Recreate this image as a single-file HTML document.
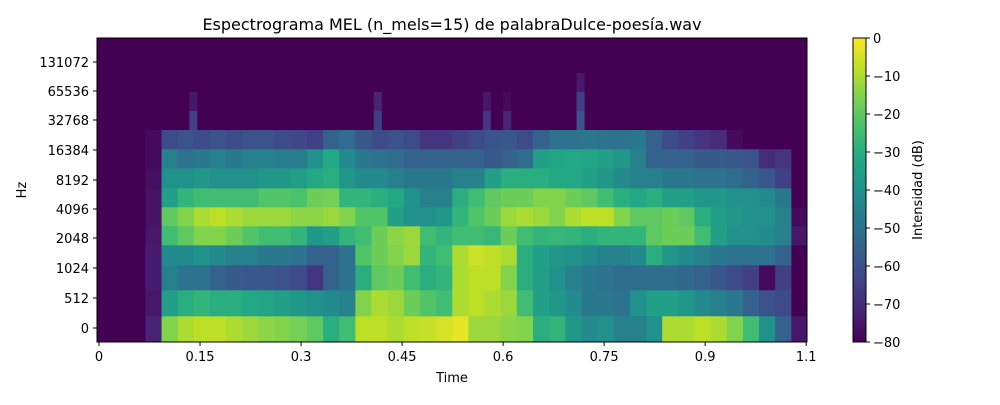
<!DOCTYPE html>
<html><head><meta charset="utf-8"><style>
body{margin:0;background:#fff}
svg text{font-family:"DejaVu Sans","Liberation Sans",sans-serif;fill:#000}
</style></head><body>
<svg id="chart" width="1000" height="400" viewBox="0 0 1000 400" xmlns="http://www.w3.org/2000/svg">
<defs>
<linearGradient id="vir" x1="0" y1="1" x2="0" y2="0">
<stop offset="0" stop-color="#440154"/><stop offset="0.1" stop-color="#482475"/><stop offset="0.2" stop-color="#414487"/><stop offset="0.3" stop-color="#355f8d"/><stop offset="0.4" stop-color="#2a788e"/><stop offset="0.5" stop-color="#21918c"/><stop offset="0.6" stop-color="#22a884"/><stop offset="0.7" stop-color="#44bf70"/><stop offset="0.8" stop-color="#7ad151"/><stop offset="0.9" stop-color="#bddf26"/><stop offset="1" stop-color="#fde725"/>
</linearGradient>
<clipPath id="plotclip"><rect x="97" y="38" width="710" height="304"/></clipPath>
</defs>
<text x="452" y="30" font-size="16" text-anchor="middle">Espectrograma MEL (n_mels=15) de palabraDulce-poesía.wav</text>
<g id="cells" clip-path="url(#plotclip)"></g>
<rect x="97" y="38" width="710" height="304" fill="none" stroke="#000" stroke-width="1"/>
<g id="xticks"></g>
<g id="yticks"></g>
<text x="452" y="382" font-size="13" text-anchor="middle">Time</text>
<text x="26" y="190" font-size="13" text-anchor="middle" transform="rotate(-90 26 190)">Hz</text>
<rect x="853" y="38" width="13" height="304" fill="url(#vir)" stroke="#000" stroke-width="1"/>
<g id="cbticks"></g>
<text x="922" y="190" font-size="13" text-anchor="middle" transform="rotate(-90 922 190)">Intensidad (dB)</text>
</svg>
<script>
const rowEdges = [342,316,290,265,245,226,207,188,168,149,130,111,92,73,54,38];
const tStart = -0.003, tEnd = 1.052, nCols = 44;
const band0 = [-80,-80,-80,-72,-15,-10,-8,-8,-10,-12,-14,-15,-17,-20,-30,-25,-8,-8,-10,-8,-7,-5,-3,-12,-12,-14,-15,-30,-28,-38,-42,-40,-45,-45,-40,-10,-10,-8,-10,-15,-25,-40,-55,-75];
const band1 = [-80,-80,-80,-75,-35,-30,-28,-30,-30,-32,-33,-35,-38,-40,-42,-45,-15,-10,-12,-18,-22,-25,-10,-8,-10,-12,-25,-35,-38,-42,-48,-48,-50,-40,-35,-35,-38,-42,-45,-48,-55,-60,-62,-80];
const band2 = [-80,-80,-80,-74,-45,-50,-50,-55,-57,-58,-58,-60,-62,-68,-55,-50,-30,-20,-18,-25,-30,-28,-10,-8,-8,-15,-30,-35,-40,-45,-48,-50,-52,-52,-52,-52,-53,-55,-58,-62,-65,-78,-65,-80];
const band3 = [-80,-80,-80,-74,-42,-42,-40,-42,-45,-45,-48,-48,-50,-55,-55,-50,-22,-18,-15,-12,-28,-25,-10,-6,-8,-10,-30,-35,-38,-40,-42,-45,-45,-42,-30,-38,-42,-45,-48,-50,-50,-50,-55,-80];
const band4 = [-80,-80,-80,-75,-25,-20,-15,-15,-18,-22,-25,-25,-28,-38,-35,-28,-25,-18,-14,-12,-25,-28,-25,-25,-27,-18,-25,-28,-27,-28,-30,-28,-28,-28,-20,-18,-18,-25,-35,-40,-40,-42,-45,-75];
const band5 = [-80,-80,-80,-76,-20,-15,-10,-8,-10,-12,-12,-12,-14,-14,-12,-15,-22,-22,-35,-40,-40,-38,-28,-22,-18,-12,-10,-12,-15,-10,-8,-8,-15,-20,-20,-18,-20,-30,-35,-38,-40,-40,-45,-78];
const band6 = [-80,-80,-80,-76,-35,-28,-25,-25,-25,-25,-22,-22,-23,-18,-17,-28,-28,-30,-32,-40,-45,-45,-30,-25,-20,-18,-18,-15,-15,-18,-20,-25,-30,-32,-30,-35,-35,-38,-38,-40,-40,-42,-48,-80];
const band7 = [-80,-80,-80,-77,-40,-40,-38,-40,-40,-40,-38,-38,-36,-32,-30,-38,-42,-42,-45,-48,-48,-48,-45,-45,-35,-30,-30,-30,-32,-32,-35,-38,-42,-45,-45,-48,-48,-50,-50,-52,-55,-58,-65,-80];
const band8 = [-80,-80,-80,-78,-45,-50,-48,-45,-48,-45,-45,-47,-47,-40,-32,-42,-48,-50,-52,-55,-55,-55,-55,-55,-58,-55,-52,-35,-33,-32,-33,-35,-38,-45,-55,-55,-55,-57,-57,-58,-60,-70,-68,-80];
const band9 = [-80,-80,-80,-78,-62,-60,-62,-60,-62,-60,-60,-62,-63,-65,-55,-52,-58,-62,-60,-62,-68,-68,-65,-62,-60,-58,-62,-55,-50,-50,-48,-50,-50,-48,-55,-62,-65,-68,-70,-78,-80,-80,-80,-80];
const bands = [band0,band1,band2,band3,band4,band5,band6,band7,band8,band9];
const spikeTimes = [0.140,0.414,0.576,0.606,0.715];
const spikeBand10 = [-65,-65,-68,-72,-60];
const spikeBand11 = [-75,-72,-75,-78,-65];
const spikeBand12 = [-80,-80,-80,-80,-75];
const spikeBands = [[10,spikeBand10],[11,spikeBand11],[12,spikeBand12]];
const xTicks = [0,0.15,0.3,0.45,0.6,0.75,0.9,1.05];
const xTickLabels = ["0","0.15","0.3","0.45","0.6","0.75","0.9","1.1"];
const yTickLabels = ["0","512","1024","2048","4096","8192","16384","32768","65536","131072"];
const cbTicks = [0,-10,-20,-30,-40,-50,-60,-70,-80];

const V=["#440154","#482475","#414487","#355f8d","#2a788e","#21918c","#22a884","#44bf70","#7ad151","#bddf26","#fde725"].map(h=>[1,3,5].map(i=>parseInt(h.substr(i,2),16)));
function color(db){let v=Math.max(0,Math.min(1,(db+80)/80))*10;let i=Math.min(9,Math.floor(v)),f=v-i;const c=V[i].map((a,k)=>Math.round(a+(V[i+1][k]-a)*f));return `rgb(${c})`;}
const x=t=>99+(t)*673.5;
const cbY=db=>38+(-db)/80*304;
const NS="http://www.w3.org/2000/svg";
function mk(tag,attrs,parent){const e=document.createElementNS(NS,tag);for(const k in attrs)e.setAttribute(k,attrs[k]);parent.appendChild(e);return e;}
const cells=document.getElementById('cells');
mk('rect',{x:97,y:38,width:710,height:304,fill:color(-80)},cells);
const dt=(tEnd-tStart)/nCols;
bands.forEach((arr,b)=>{arr.forEach((v,i)=>{
  const x0=x(tStart+i*dt),x1=x(tStart+(i+1)*dt);
  const r=mk('rect',{x:x0,y:rowEdges[b+1],width:x1-x0+0.6,height:rowEdges[b]-rowEdges[b+1]+0.3,fill:color(v)},cells);
  
  
});});
spikeBands.forEach(([b,arr])=>{arr.forEach((v,i)=>{
  if(v<=-80)return;
  const r=mk('rect',{x:x(spikeTimes[i]-0.006),y:rowEdges[b+1],width:x(0.012)-x(0),height:rowEdges[b]-rowEdges[b+1],fill:color(v)},cells);
  
  
});});
const xt=document.getElementById('xticks');
xTicks.forEach((t,i)=>{
  const l=mk('line',{x1:x(t),x2:x(t),y1:342,y2:346,stroke:'#000'},xt);
  
  
  const tx=mk('text',{x:x(t),y:361,'font-size':13,'text-anchor':'middle'},xt);tx.textContent=xTickLabels[i];
  
  
});
const yt=document.getElementById('yticks');
const yTickPos=[328,298,268,238,209,180,150,120,91,62];
yTickLabels.forEach((lab,i)=>{
  const y=yTickPos[i];
  const l=mk('line',{x1:93,x2:97,y1:y,y2:y,stroke:'#000'},yt);
  
  
  const tx=mk('text',{x:89,y:y+5,'font-size':13,'text-anchor':'end'},yt);tx.textContent=lab;
  
  
});
const cb=document.getElementById('cbticks');
cbTicks.forEach(v=>{
  const y=cbY(v);
  const l=mk('line',{x1:866,x2:870,y1:y,y2:y,stroke:'#000'},cb);
  
  
  const tx=mk('text',{x:873,y:y+5,'font-size':13},cb);tx.textContent=v===0?'0':'\u2212'+(-v);
  
  
});
</script>
</body></html>
